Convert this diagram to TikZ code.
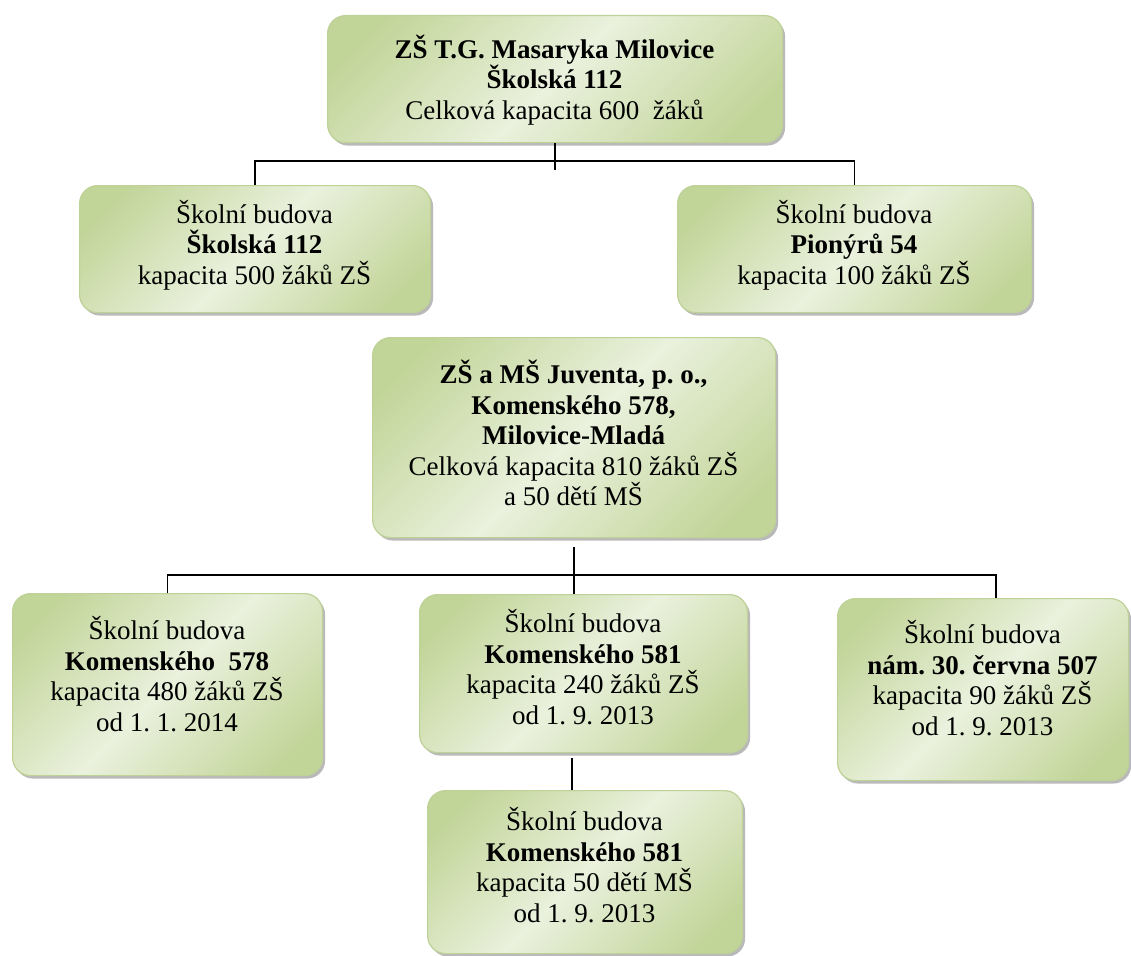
\documentclass[tikz,border=0pt]{standalone}
\usepackage{fontspec}
\setmainfont{Liberation Serif}
\usetikzlibrary{shadows}
\frenchspacing
\definecolor{gl}{RGB}{234,241,221}
\definecolor{gd}{RGB}{194,213,153}
\definecolor{gb}{RGB}{190,209,150}
\pgfdeclarehorizontalshading{gboxshade}{100bp}{color(0bp)=(gd); color(22bp)=(gd); color(50bp)=(gl); color(78bp)=(gd); color(100bp)=(gd)}
\tikzset{
  gbox/.style={draw=gb, line width=1.2pt, rounded corners=18pt, shading=gboxshade, shading angle=-45,
    drop shadow={shadow xshift=2.5pt, shadow yshift=-3pt, fill=black!50, opacity=0.55},
    inner sep=0pt, anchor=north west},
  txt/.style={align=center, font=\fontsize{27}{30.5}\selectfont, text=black, inner sep=0pt},
  conn/.style={draw=black, line width=1.4pt}
}
\begin{document}
\begin{tikzpicture}[x=1pt,y=-1pt]
\useasboundingbox (0,0) rectangle (1131,955);
% boxes
\node[gbox, minimum width=455pt, minimum height=127pt] (b1) at (327,15) {};
\node[gbox, minimum width=351pt, minimum height=127pt] (b2) at (79,185) {};
\node[gbox, minimum width=354pt, minimum height=127pt] (b3) at (677,185) {};
\node[gbox, minimum width=403pt, minimum height=200pt] (b4) at (372,337) {};
\node[gbox, minimum width=310pt, minimum height=182pt] (b5) at (12,593) {};
\node[gbox, minimum width=328pt, minimum height=158pt] (b6) at (419,594) {};
\node[gbox, minimum width=291pt, minimum height=182pt] (b7) at (837,598) {};
\node[gbox, minimum width=315pt, minimum height=163pt] (b8) at (427,790) {};
% texts
\node[txt] (t1) at (554.5,80) {\textbf{ZŠ T.G. Masaryka Milovice}\\\textbf{Školská 112}\\Celková kapacita 600\ \ žáků};
\node[txt] (t2) at (254.5,245) {Školní budova\\\textbf{Školská 112}\\kapacita 500 žáků ZŠ};
\node[txt] (t3) at (854,245) {Školní budova\\\textbf{Pionýrů 54}\\kapacita 100 žáků ZŠ};
\node[txt] (t4) at (573.5,433) {\textbf{ZŠ a MŠ Juventa, p. o.,}\\\textbf{Komenského 578,}\\\textbf{Milovice-Mladá}\\Celková kapacita 810 žáků ZŠ\\a 50 dětí MŠ};
\node[txt] (t5) at (167,674) {Školní budova\\\textbf{Komenského\ \ 578}\\kapacita 480 žáků ZŠ\\od 1. 1. 2014};
\node[txt] (t6) at (583,667) {Školní budova\\\textbf{Komenského 581}\\kapacita 240 žáků ZŠ\\od 1. 9. 2013};
\node[txt] (t7) at (982.5,678) {Školní budova\\\textbf{nám. 30. června 507}\\kapacita 90 žáků ZŠ\\od 1. 9. 2013};
\node[txt] (t8) at (584.5,865) {Školní budova\\\textbf{Komenského 581}\\kapacita 50 dětí MŠ\\od 1. 9. 2013};
% connector helpers
\coordinate (h1) at (0,161);
\coordinate (v1) at (0,170);
\coordinate (h2) at (0,575);
\coordinate (v2) at (0,547);
\coordinate (c7) at (996,0);
\coordinate (c6) at (572,758);
% connectors
\draw[conn] (b1.south) -- (b1.south |- v1);
\draw[conn] (b2.north) -- (b2.north |- h1) -| (b3.north);
\draw[conn] (b4.south |- v2) -- (b4.south |- b6.north);
\draw[conn] (b5.north) -- (b5.north |- h2) -| (c7 |- b7.north);
\draw[conn] (c6) -- (c6 |- b8.north);
\end{tikzpicture}
\end{document}
